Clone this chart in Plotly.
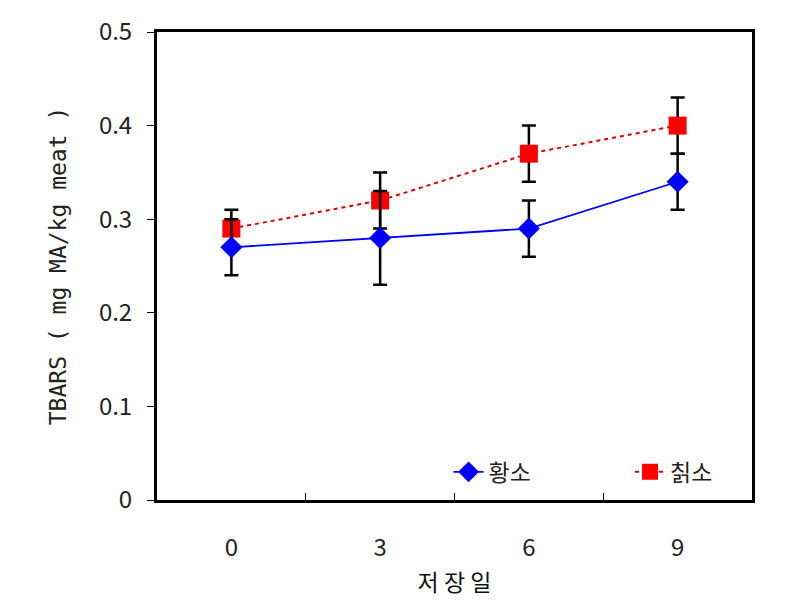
import plotly.graph_objects as go


###############################################################################
# données

jours = ["0", "3", "6", "9"]

hwangso = [0.27, 0.28, 0.29, 0.34]
hwangso_err = [0.03, 0.05, 0.03, 0.03]

chikso = [0.29, 0.32, 0.37, 0.40]
chikso_err = [0.02, 0.03, 0.03, 0.03]

y_ticks = [0, 0.1, 0.2, 0.3, 0.4, 0.5]


###############################################################################

_font = "Noto Sans CJK KR"

fig = go.Figure()

fig.add_trace(go.Scatter(x=jours,
                         y=chikso,
                         name="칡소",
                         mode="lines+markers",
                         line=dict(color="#e00000", width=2, dash="4px,4px"),
                         marker=dict(symbol="square", size=18, color="#ff0000"),
                         error_y=dict(type="data", array=chikso_err, visible=True,
                                      color="black", thickness=2.5, width=7),
                         legend="legend2",
                         ))

fig.add_trace(go.Scatter(x=jours,
                         y=hwangso,
                         name="황소",
                         mode="lines+markers",
                         line=dict(color="#0000ff", width=1.8),
                         marker=dict(symbol="diamond", size=17, color="#0000ff"),
                         error_y=dict(type="data", array=hwangso_err, visible=True,
                                      color="black", thickness=2.5, width=7),
                         legend="legend",
                         ))

# une légende par série pour garder l'écart entre les deux entrées
_leg = dict(orientation="h",
            y=0.06, yanchor="middle",
            xanchor="left",
            bgcolor="rgba(0,0,0,0)",
            font=dict(size=23, color="#222"),
            )

fig.update_layout(width=793,
                  height=607,
                  margin=dict(l=157, r=41, t=26, b=107),
                  paper_bgcolor="white",
                  plot_bgcolor="white",
                  font=dict(family=_font, size=24, color="#222"),
                  showlegend=True,
                  legend=dict(_leg, x=0.49),
                  legend2=dict(_leg, x=0.795),
                  )

fig.update_xaxes(type="category",
                 range=[-0.5, 3.5],
                 showline=True, linecolor="black", linewidth=3, mirror=True,
                 showgrid=False, zeroline=False,
                 ticks="inside", ticklen=7, tickcolor="black", tickwidth=1,
                 tickson="boundaries",
                 ticklabelstandoff=24,
                 title=dict(text="저 장 일", standoff=14,
                            font=dict(size=23, color="#111")),
                 )

fig.update_yaxes(range=[0, 0.5],
                 tickvals=y_ticks,
                 showline=True, linecolor="black", linewidth=3, mirror=True,
                 showgrid=False, zeroline=False,
                 ticks="outside", ticklen=7, tickcolor="black", tickwidth=1,
                 ticklabelstandoff=10,
                 title=dict(text="TBARS ( mg MA/kg meat )", standoff=26,
                            font=dict(family="DejaVu Sans Mono", size=23, color="#222")),
                 )

fig.write_html("out.html",
               config={"displayModeBar": False},
               post_script="document.body.style.margin='0';")
